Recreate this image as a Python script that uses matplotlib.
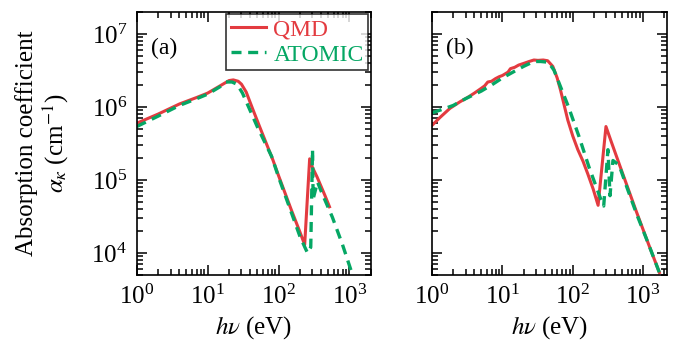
import matplotlib.pyplot as plt
import numpy as np
from matplotlib.ticker import LogLocator

plt.rcParams['font.family'] = ['Liberation Serif', 'DejaVu Serif']
plt.rcParams['mathtext.fontset'] = 'stix'
plt.rcParams['font.size'] = 18

RED = '#e33b40'
GREEN = '#05a764'

#%% data, panel (a)
qmd_a_x = [1, 2, 4, 7, 10, 15, 20, 23, 27, 30, 35, 43, 54, 83, 100, 150, 200, 234, 275, 300, 350, 450, 524]
qmd_a_y = [6.0e5, 8.0e5, 1.1e6, 1.35e6, 1.55e6, 1.95e6, 2.3e6, 2.35e6, 2.25e6, 2.05e6, 1.6e6, 9.5e5,
           5.4e5, 1.9e5, 1.15e5, 4.0e4, 1.95e4, 1.3e4, 1.95e5, 1.5e5, 1.1e5, 6.2e4, 4.3e4]

atom_a_x = [1, 2, 4, 7, 10, 15, 18, 22, 26, 31, 50, 80, 100, 150, 200, 240, 257, 285, 302, 308, 355, 400,
            575, 800, 1150]
atom_a_y = [5.4e5, 7.5e5, 1.05e6, 1.3e6, 1.5e6, 1.9e6, 2.2e6, 2.2e6, 2.05e6, 1.55e6, 5.4e5, 2.1e5,
            1.1e5, 3.7e4, 1.7e4, 1.15e4, 1.0e4, 1.2e4, 2.6e5, 5.5e4, 9.4e4, 7.0e4, 3.1e4, 1.3e4, 4.5e3]

#%% data, panel (b)
qmd_b_x = [1, 1.3, 1.8, 2.5, 3.2, 4, 5, 5.6, 6.2, 7, 8, 9, 10, 12, 13, 15, 17, 20, 24, 28, 32, 38,
           44, 52, 60, 67, 85, 100, 118, 140, 164, 195, 229, 296, 350, 500, 800, 1200, 1700]
qmd_b_y = [5.6e5, 7.2e5, 9.6e5, 1.18e6, 1.35e6, 1.55e6, 1.8e6, 1.95e6, 2.2e6, 2.25e6, 2.45e6, 2.6e6,
           2.7e6, 3.0e6, 3.35e6, 3.5e6, 3.75e6, 3.95e6, 4.2e6, 4.4e6, 4.35e6, 4.4e6,
           4.3e6, 3.6e6, 2.5e6, 1.7e6, 6.6e5, 4.0e5, 2.6e5, 1.8e5, 1.2e5, 7.5e4, 4.5e4,
           5.4e5, 3.4e5, 1.3e5, 3.7e4, 1.3e4, 5.4e3]

atom_b_x = [1, 1.5, 2, 3, 5, 7, 10, 15, 20, 28, 35, 45, 54, 87, 123, 170, 251, 275,
            316, 338, 372, 455, 600, 800, 1200, 1700]
atom_b_y = [8.3e5, 9.5e5, 1.05e6, 1.3e6, 1.65e6, 2.0e6, 2.5e6, 3.1e6, 3.6e6, 4.2e6, 4.2e6, 4.1e6,
            3.2e6, 1.0e6, 3.9e5, 1.5e5, 5.4e4, 4.4e4, 2.6e5, 6.1e4, 1.85e5,
            1.6e5, 7.5e4, 3.5e4, 1.3e4, 5.4e3]

#%% plot
fig = plt.figure(figsize=(6.74, 3.53), dpi=100)
axa = fig.add_axes([0.203, 0.221, 0.347, 0.745])
axb = fig.add_axes([0.641, 0.221, 0.349, 0.745])

for ax, qx, qy, ax_x, ax_y, lab in [(axa, qmd_a_x, qmd_a_y, atom_a_x, atom_a_y, '(a)'),
                                    (axb, qmd_b_x, qmd_b_y, atom_b_x, atom_b_y, '(b)')]:
    ax.plot(qx, qy, '-', color=RED, lw=2.2, label='QMD')
    ax.plot(ax_x, ax_y, '--', color=GREEN, lw=2.4, dashes=(3, 2), label='ATOMIC')
    ax.set_xscale('log')
    ax.set_yscale('log')
    ax.set_xlim(1, 2000)
    ax.set_ylim(5e3, 2e7)
    ax.xaxis.set_major_locator(LogLocator(base=10, numticks=10))
    ax.xaxis.set_minor_locator(LogLocator(base=10, subs=np.arange(2, 10), numticks=10))
    ax.tick_params(which='both', direction='in', top=True, right=True, width=1.1)
    ax.tick_params(which='major', length=7, pad=7)
    ax.tick_params(which='minor', length=4)
    ax.set_xlabel(r'$h\nu$ (eV)', labelpad=4)
    ax.text(0.06, 0.9, lab, transform=ax.transAxes, va='top', fontsize=17)
    for s in ax.spines.values():
        s.set_linewidth(1.2)

axb.set_xlim(1, 2200)
axb.set_yticklabels([])
axa.set_ylabel('Absorption coefficient\n' + r'$\alpha_\kappa$ (cm$^{-1}$)', labelpad=15,
               linespacing=1.1)

leg = axa.legend(loc='upper right', frameon=True, fancybox=False, edgecolor='black',
                 borderaxespad=0.1, handlelength=1.5, handletextpad=0.3, labelspacing=0.15,
                 borderpad=0.2, fontsize=17)
leg.get_frame().set_linewidth(1.2)
for t, c in zip(leg.get_texts(), [RED, GREEN]):
    t.set_color(c)

fig.savefig('out.png', dpi=100)
